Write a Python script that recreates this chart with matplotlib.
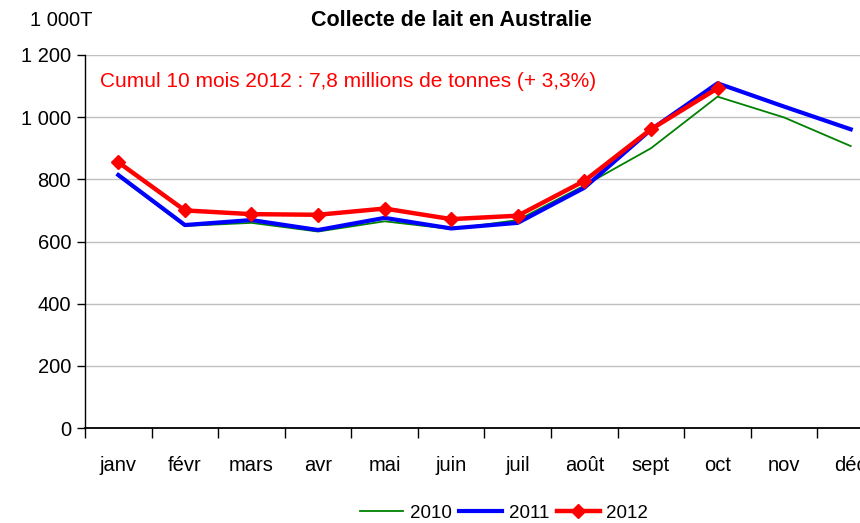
import numpy as np
import matplotlib
matplotlib.use('Agg')
import matplotlib.pyplot as plt

matplotlib.rcParams['font.family'] = ['Liberation Sans', 'DejaVu Sans']

months = ['janv', 'févr', 'mars', 'avr', 'mai', 'juin', 'juil', 'août', 'sept', 'oct', 'nov', 'déc']
v2010 = [810, 650, 660, 632, 665, 640, 669, 780, 900, 1066, 999, 907]
v2011 = [814, 653, 669, 637, 676, 642, 660, 773, 960, 1109, 1034, 961]
v2012 = [855, 700, 688, 686, 706, 672, 683, 795, 961, 1093]
yticks = [0, 200, 400, 600, 800, 1000, 1200]
ylabels = ['0', '200', '400', '600', '800', '1 000', '1 200']

fig = plt.figure(figsize=(8.60, 5.23), dpi=100)
ax = fig.add_axes([85/860, 1-428/523, 799/860, 373/523])

x = np.arange(len(months))
ax.plot(x, v2010, '-', color='#008000', linewidth=1.3, label='2010')
ax.plot(x, v2011, '-', color='#0000ff', linewidth=3, label='2011')
ax.plot(x[:len(v2012)], v2012, '-', color='#ff0000', linewidth=3.2,
        marker='D', markersize=7, label='2012')

ax.set_xlim(-0.5, 11.5)
ax.set_ylim(0, 1200)
ax.set_yticks(yticks)
ax.set_yticklabels(ylabels, fontsize=14.5)
ax.yaxis.grid(True, color='#c0c0c0', linewidth=1)
ax.set_axisbelow(True)

ax.set_xticks(x)
ax.set_xticklabels(months, fontsize=14.5)
ax.set_xticks(np.arange(-0.5, 12, 1), minor=True)
ax.tick_params(axis='x', which='major', length=0, pad=20)
ax.tick_params(axis='x', which='minor', length=7, width=1)
ax.tick_params(axis='y', length=6, width=1, pad=4)

for s in ['top', 'right']:
    ax.spines[s].set_visible(False)
ax.spines['left'].set_linewidth(1)
ax.spines['bottom'].set_linewidth(1.3)

fig.text(30/860, 1-20/523, '1 000T', fontsize=14.5, va='center', ha='left')
fig.text(451/860, 1-20/523, 'Collecte de lait en Australie', fontsize=15.5,
         fontweight='bold', va='center', ha='center')
ax.text(100/860, 1-82/523, 'Cumul 10 mois 2012 : 7,8 millions de tonnes (+ 3,3%)',
        transform=fig.transFigure, fontsize=15, color='#ff0000', va='center', ha='left')

fig.legend(loc='center', bbox_to_anchor=(504/860, 1-513/523), ncol=3, frameon=False,
           fontsize=13.5, handlelength=2.3, columnspacing=0.4, handletextpad=0.35)

plt.savefig('out.png', dpi=100)
